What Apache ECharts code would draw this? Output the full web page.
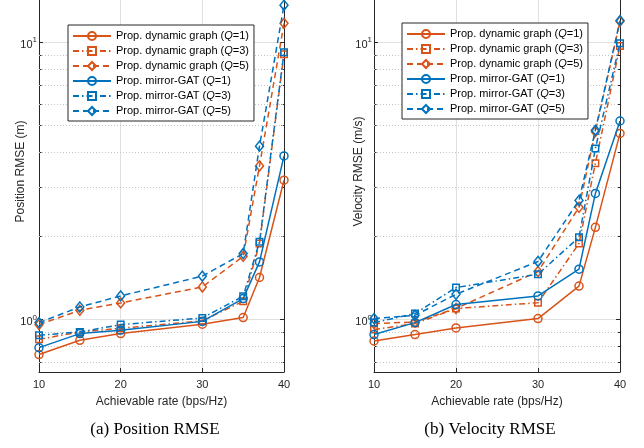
<!DOCTYPE html>
<html>
<head>
<meta charset="utf-8">
<script src="https://cdn.jsdelivr.net/npm/echarts@6/dist/echarts.min.js"></script>
<style>
  html, body { margin: 0; padding: 0; background: #fff; }
  #chart { width: 644px; height: 448px; }
</style>
</head>
<body>
<div id="chart"></div>
<script>
// achievable rate (bps/Hz)
var rates = [10, 15, 20, 30, 35, 37, 40];

// position RMSE (m)
var posDyn1 = [0.748, 0.842, 0.890, 0.962, 1.017, 1.418, 3.18];
var posDyn3 = [0.849, 0.902, 0.930, 0.990, 1.164, 1.880, 9.05];
var posDyn5 = [0.959, 1.080, 1.148, 1.311, 1.690, 3.580, 11.7];
var posGat1 = [0.792, 0.890, 0.915, 0.985, 1.190, 1.614, 3.89];
var posGat3 = [0.878, 0.902, 0.959, 1.013, 1.214, 1.906, 9.2];
var posGat5 = [0.975, 1.110, 1.217, 1.434, 1.730, 4.220, 13.6];

// velocity RMSE (m/s)
var velDyn1 = [0.837, 0.883, 0.933, 1.008, 1.32, 2.15, 4.69];
var velDyn3 = [0.920, 0.967, 1.096, 1.150, 1.88, 3.66, 9.7];
var velDyn5 = [0.967, 0.980, 1.096, 1.490, 2.54, 4.76, 11.9];
var velGat1 = [0.883, 0.975, 1.133, 1.217, 1.52, 2.85, 5.2];
var velGat3 = [0.975, 1.051, 1.305, 1.457, 1.98, 4.14, 9.92];
var velGat5 = [1.008, 1.036, 1.234, 1.620, 2.69, 4.82, 11.97];

var names = [
  'Prop. dynamic graph (Q=1)', 'Prop. dynamic graph (Q=3)', 'Prop. dynamic graph (Q=5)',
  'Prop. mirror-GAT (Q=1)', 'Prop. mirror-GAT (Q=3)', 'Prop. mirror-GAT (Q=5)'
];
var xTicks = [10, 20, 30, 40];
var majorTicks = [1, 10];
var minorGrid = [0.7, 0.8, 0.9, 2, 3, 4, 5, 6, 7, 8, 9];
var yMin = 0.647, yMax = 14.2;

var ORANGE = '#D95319', BLUE = '#0072BD', AX = '#262626';
var FONT = '"Liberation Sans", Arial, sans-serif';
var HOLLOW = 'rgba(255,255,255,0)';

var styles = [
  {c: ORANGE, sym: 'circle', size: 8, dash: 'solid'},
  {c: ORANGE, sym: 'rect', size: 6.5, dash: [6, 3, 1.5, 3]},
  {c: ORANGE, sym: 'diamond', size: [8, 10], dash: [6, 4]},
  {c: BLUE, sym: 'circle', size: 8, dash: 'solid'},
  {c: BLUE, sym: 'rect', size: 6.5, dash: [6, 3, 1.5, 3]},
  {c: BLUE, sym: 'diamond', size: [8, 10], dash: [6, 4]}
];

function mkSeries(idx, vals, xi, yi) {
  var s = styles[idx];
  return {
    name: names[idx],
    type: 'line',
    xAxisIndex: xi,
    yAxisIndex: yi,
    data: rates.map(function (r, i) { return [r, vals[i]]; }),
    symbol: s.sym,
    symbolSize: s.size,
    showAllSymbol: true,
    z: 3 + idx,
    lineStyle: {color: s.c, width: 1.5, type: s.dash},
    itemStyle: {color: HOLLOW, borderColor: s.c, borderWidth: 1.5},
    emphasis: {disabled: true},
    animation: false
  };
}

// dotted minor grid for the log axis
function gridSeries(xi, yi) {
  return {
    type: 'line', xAxisIndex: xi, yAxisIndex: yi, data: [], silent: true, z: 1,
    markLine: {
      silent: true, symbol: 'none', animation: false, z: 1,
      label: {show: false},
      lineStyle: {color: '#c4c4c4', type: [1, 2], width: 1},
      emphasis: {disabled: true},
      data: minorGrid.map(function (v) { return {yAxis: v}; })
    }
  };
}

function xAxisDef(gi) {
  return {
    type: 'value', gridIndex: gi, min: 10, max: 40, interval: 10,
    name: 'Achievable rate (bps/Hz)', nameLocation: 'middle', nameGap: 24, nameMoveOverlap: false,
    nameTextStyle: {fontFamily: FONT, fontSize: 12, color: AX},
    axisLine: {lineStyle: {color: AX, width: 1}},
    axisTick: {inside: true, length: 4, lineStyle: {color: AX}},
    axisLabel: {fontFamily: FONT, fontSize: 11, color: AX, margin: 7},
    splitLine: {show: true, lineStyle: {color: '#e0e0e0', width: 1}}
  };
}

function powLabel(v) {
  var e = Math.log10(v);
  if (Math.abs(e - Math.round(e)) > 1e-6) return '';
  return '{b|10}{s|' + Math.round(e) + '}';
}

function yAxisDef(gi, name, gap) {
  return {
    type: 'log', logBase: 10, gridIndex: gi, min: yMin, max: yMax,
    name: name, nameLocation: 'middle', nameGap: gap, nameMoveOverlap: false,
    // shift the name up so it is centred on the full (cropped) axes height
    nameTextStyle: {fontFamily: FONT, fontSize: 12, color: AX, padding: [0, 0, 0, 29]},
    axisLine: {show: true, lineStyle: {color: AX, width: 1}},
    axisTick: {inside: true, length: 4, lineStyle: {color: AX}, customValues: majorTicks},
    axisLabel: {
      margin: 2, formatter: powLabel, showMinLabel: false, showMaxLabel: false,
      rich: {
        b: {fontFamily: FONT, fontSize: 11, color: AX, padding: [5, 0, 0, 0]},
        s: {fontFamily: FONT, fontSize: 8, color: AX, padding: [0, 0, 4, 0]}
      }
    },
    splitLine: {show: true, lineStyle: {color: '#e0e0e0', width: 1}}
  };
}

// extra log axes: right-hand box edge, and short minor ticks on both edges
function sideAxisDef(gi, pos, ticks, len, showLine) {
  return {
    type: 'log', logBase: 10, gridIndex: gi, min: yMin, max: yMax, position: pos,
    axisLine: {show: showLine, lineStyle: {color: AX, width: 1}},
    axisTick: {show: true, inside: true, length: len, lineStyle: {color: AX}, customValues: ticks},
    axisLabel: {show: false},
    splitLine: {show: false}
  };
}

function legendDef(left, top) {
  return {
    left: left, top: top, orient: 'vertical',
    data: names,
    itemWidth: 38, itemHeight: 10, itemGap: 3,
    padding: [5, 5, 4, 4],
    borderColor: AX, borderWidth: 1, backgroundColor: '#fff',
    selectedMode: false,
    formatter: function (n) { return n.replace('Q', '{q|Q}'); },
    textStyle: {
      fontFamily: FONT, fontSize: 11, color: '#000', lineHeight: 12,
      rich: {q: {fontFamily: FONT, fontSize: 11, fontStyle: 'italic', color: '#000'}}
    }
  };
}

var series = [gridSeries(0, 0), gridSeries(1, 4)];
[posDyn1, posDyn3, posDyn5, posGat1, posGat3, posGat5].forEach(function (v, i) {
  series.push(mkSeries(i, v, 0, 0));
});
[velDyn1, velDyn3, velDyn5, velGat1, velGat3, velGat5].forEach(function (v, i) {
  series.push(mkSeries(i, v, 1, 4));
});

var chart = echarts.init(document.getElementById('chart'), null, {renderer: 'canvas'});
chart.setOption({
  backgroundColor: '#fff',
  animation: false,
  grid: [
    {left: 39, right: 360, top: 0, bottom: 76},
    {left: 374, right: 24, top: 0, bottom: 76}
  ],
  xAxis: [xAxisDef(0), xAxisDef(1)],
  yAxis: [
    yAxisDef(0, 'Position RMSE (m)', 12),
    sideAxisDef(0, 'right', majorTicks, 4, true),
    sideAxisDef(0, 'left', minorGrid, 2.5, false),
    sideAxisDef(0, 'right', minorGrid, 2.5, false),
    yAxisDef(1, 'Velocity RMSE (m/s)', 9.5),
    sideAxisDef(1, 'right', majorTicks, 4, true),
    sideAxisDef(1, 'left', minorGrid, 2.5, false),
    sideAxisDef(1, 'right', minorGrid, 2.5, false)
  ],
  legend: [legendDef(68, 25), legendDef(402, 23)],
  graphic: [
    {type: 'text', x: 155, y: 430, style: {text: '(a) Position RMSE', font: '17px "Liberation Serif", "Times New Roman", serif', fill: '#000', align: 'center', verticalAlign: 'middle'}},
    {type: 'text', x: 490, y: 430, style: {text: '(b) Velocity RMSE', font: '17px "Liberation Serif", "Times New Roman", serif', fill: '#000', align: 'center', verticalAlign: 'middle'}}
  ],
  series: series
});
</script>
</body>
</html>
